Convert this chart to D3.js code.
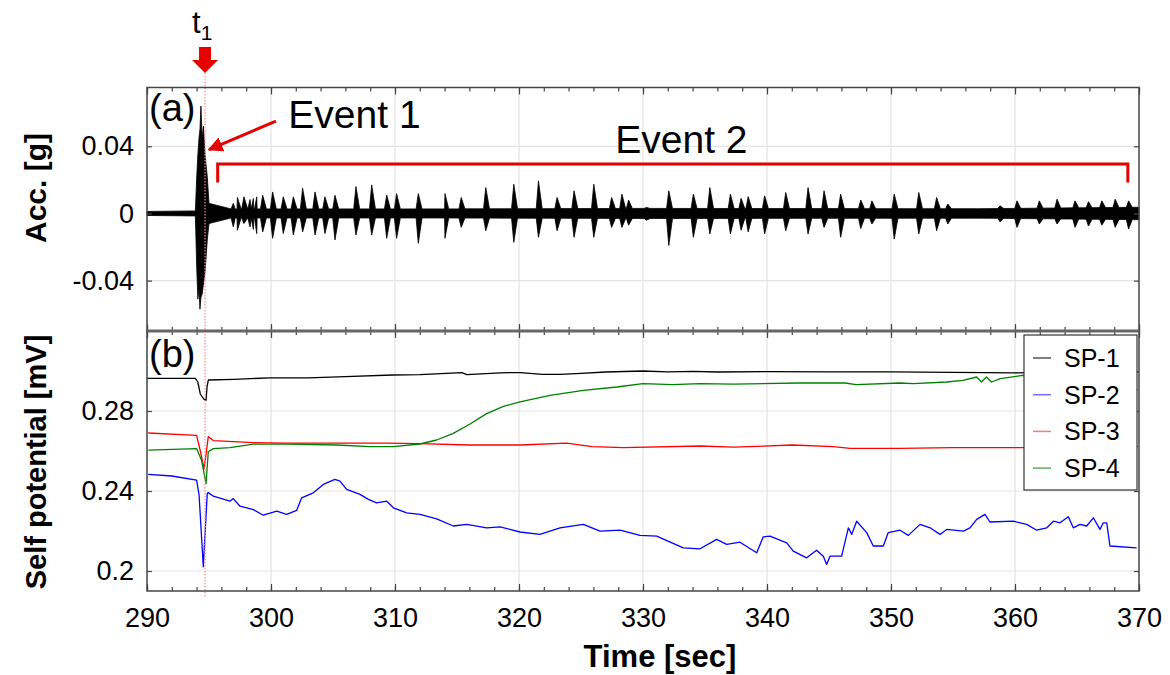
<!DOCTYPE html>
<html>
<head>
<meta charset="utf-8">
<script src="https://cdn.jsdelivr.net/npm/d3@7"></script>
<style>
  body { margin: 0; background: #fff; }
  text { font-family: "Liberation Sans", Arial, sans-serif; }
</style>
</head>
<body>
<svg id="chart" width="1170" height="675"></svg>
<script>
// ---- data ----
var xTicks = [290, 300, 310, 320, 330, 340, 350, 360, 370];
var accTicks = [-0.04, 0, 0.04];
var spTicks = [0.2, 0.24, 0.28];
var t1 = 294.68;

// background noise half-width of the accelerometer trace [g]
var accNoiseT = [290, 293.9, 295.1, 314, 330, 357, 370];
var accNoiseAmp = [0.0012, 0.0012, 0.0027, 0.0027, 0.003, 0.0028, 0.0037];

// event 1 envelope: time, upper, lower
var event1 = [
  [293.9, 0.0015, -0.0015], [294.0, 0.02, -0.03], [294.1, 0.035, -0.051],
  [294.2, 0.0455, -0.045], [294.27, 0.05, -0.057], [294.35, 0.064, -0.05],
  [294.45, 0.045, -0.048], [294.55, 0.052, -0.042], [294.68, 0.035, -0.035],
  [294.86, 0.022, -0.016], [295.0, 0.006, -0.006]
];

// event 2 bursts: time, upper peak, lower peak
var bursts = [
  [296.96, 0.006, -0.008], [297.29, 0.0095, -0.010], [297.82, 0.0099, -0.006],
  [298.31, 0.0083, -0.008], [298.58, 0.0089, -0.0095], [298.85, 0.0099, -0.012],
  [299.33, 0.0108, -0.011], [300.13, 0.0128, -0.0148], [300.99, 0.0099, -0.012],
  [301.80, 0.0099, -0.0128], [302.55, 0.015, -0.011], [303.55, 0.0128, -0.0128],
  [304.35, 0.0099, -0.012], [305.16, 0.0108, -0.0158], [306.85, 0.016, -0.0128],
  [308.12, 0.017, -0.0128], [309.33, 0.011, -0.0148], [310.13, 0.0118, -0.0148],
  [311.88, 0.0118, -0.0178], [314.03, 0.0118, -0.0148], [315.34, 0.0095, -0.0083],
  [317.32, 0.0154, -0.0103], [319.58, 0.0174, -0.0172], [321.57, 0.0194, -0.0142],
  [323.07, 0.0095, -0.0103], [324.44, 0.0135, -0.0142], [326.03, 0.0174, -0.0142],
  [327.47, 0.0095, -0.0083], [328.30, 0.0115, -0.0083], [328.84, 0.008, -0.007],
  [330.27, 0.0036, -0.004], [332.08, 0.0135, -0.0191], [334.06, 0.0115, -0.0142],
  [335.39, 0.0154, -0.0122], [337.05, 0.0115, -0.0122], [337.91, 0.009, -0.010],
  [338.48, 0.010, -0.011], [339.81, 0.0105, -0.0122], [341.51, 0.0125, -0.0103],
  [343.31, 0.0154, -0.0122], [344.60, 0.0135, -0.0083], [345.94, 0.0115, -0.0142],
  [347.56, 0.008, -0.009], [348.46, 0.0075, -0.0063], [350.26, 0.0115, -0.0152],
  [352.24, 0.0125, -0.0122], [353.68, 0.0095, -0.0103], [354.58, 0.0056, -0.0063],
  [358.79, 0.0046, -0.005], [360.16, 0.0075, -0.0083], [361.96, 0.0075, -0.0063],
  [363.39, 0.0085, -0.0063], [364.84, 0.0075, -0.0083], [365.92, 0.007, -0.0075],
  [367.0, 0.0075, -0.007], [368.08, 0.0085, -0.0083], [369.16, 0.0075, -0.0093]
];

// self potential traces [time, mV]
var sp1 = [
  [290, 0.2963], [293.9, 0.2963], [294.1, 0.2945], [294.3, 0.2885], [294.6, 0.2858],
  [294.76, 0.2853], [294.85, 0.2925], [294.95, 0.2955], [297, 0.2958], [299.9, 0.2966],
  [303, 0.2966], [306, 0.2972], [309.8, 0.298], [312, 0.2982], [315.4, 0.2992],
  [315.8, 0.2982], [318.5, 0.2991], [320.1, 0.2992], [321.9, 0.2983], [323.3, 0.2983],
  [325, 0.2988], [327, 0.2995], [330, 0.300], [332, 0.2996], [334, 0.2998],
  [336, 0.2995], [340, 0.2997], [345, 0.2996], [350, 0.2996], [355, 0.2993],
  [360, 0.2991], [365, 0.2994], [370, 0.2996]
];
var sp2 = [
  [290.1, 0.2483], [292, 0.2475], [294.0, 0.2454], [294.2, 0.238], [294.54, 0.2021],
  [294.86, 0.2388], [294.94, 0.2392], [295.35, 0.2374], [296.69, 0.2349], [296.96, 0.2362],
  [297.5, 0.2324], [298.58, 0.2307], [299.38, 0.2279], [300.46, 0.2299], [301.26, 0.2283],
  [302.07, 0.2303], [302.47, 0.2366], [303.41, 0.2391], [304.22, 0.2433], [305.16, 0.2458],
  [305.56, 0.2449], [306.1, 0.2408], [307.18, 0.2383], [307.85, 0.2358], [308.52, 0.2341],
  [309.33, 0.2349], [309.87, 0.2316], [310.94, 0.2291], [312.02, 0.2283], [313.36, 0.2261],
  [314.7, 0.2225], [315.78, 0.2233], [317.39, 0.2216], [318.47, 0.2221], [320.08, 0.2195],
  [321.69, 0.2183], [323.31, 0.2216], [325.19, 0.2233], [326.53, 0.2199], [328.15, 0.2204],
  [329.76, 0.2178], [331.1, 0.2174], [333.25, 0.2116], [334.6, 0.2111], [335.94, 0.2158],
  [336.75, 0.2133], [337.82, 0.2144], [339.17, 0.2091], [339.7, 0.2171], [340.24, 0.2174],
  [341.59, 0.2141], [342.12, 0.2099], [343.2, 0.2066], [344.0, 0.2104], [344.54, 0.2074],
  [344.81, 0.2033], [345.08, 0.2074], [346.02, 0.2074], [346.56, 0.2216], [346.83, 0.2183],
  [347.23, 0.2249], [348.04, 0.2192], [348.57, 0.2125], [349.38, 0.2125], [349.78, 0.2192],
  [350.73, 0.2204], [351.4, 0.2178], [352.34, 0.2233], [353.15, 0.2216], [353.95, 0.2183],
  [354.49, 0.2208], [355.84, 0.2199], [356.37, 0.2216], [356.91, 0.2258], [357.58, 0.2283],
  [357.98, 0.2245], [359.87, 0.2249], [360.94, 0.2233], [361.75, 0.2204], [362.56, 0.2216],
  [363.1, 0.2249], [363.63, 0.2241], [364.3, 0.2271], [364.7, 0.2216], [365.24, 0.2233],
  [365.78, 0.2225], [366.32, 0.2266], [366.85, 0.2208], [367.12, 0.2241], [367.4, 0.2241],
  [367.66, 0.2125], [369.81, 0.2116]
];
var sp3 = [
  [290.1, 0.2690], [294.0, 0.2678], [294.3, 0.2600], [294.6, 0.2512], [294.8, 0.2600],
  [294.94, 0.2672], [295.35, 0.2652], [298.58, 0.2642], [301.26, 0.2639], [309.33, 0.2639],
  [312.02, 0.2637], [316.0, 0.2630], [320.08, 0.2630], [323.85, 0.2639], [325.9, 0.2622],
  [328.4, 0.2617], [334.6, 0.2625], [337.3, 0.2619], [342.1, 0.2630], [345.35, 0.2622],
  [346.7, 0.2613], [350.7, 0.2613], [355, 0.2617], [360.6, 0.2617], [369.9, 0.2622]
];
var sp4 = [
  [290.1, 0.2604], [294.0, 0.2612], [294.4, 0.2554], [294.76, 0.2437], [294.94, 0.2596],
  [295.35, 0.2612], [296.69, 0.2617], [298.58, 0.2634], [301.26, 0.2634], [305.3, 0.2630],
  [307.98, 0.2622], [309.87, 0.2622], [312.0, 0.2635], [313.36, 0.2655], [314.7, 0.2688],
  [316.05, 0.2735], [317.39, 0.2787], [318.74, 0.2823], [320.08, 0.2846], [322.5, 0.2878],
  [325.19, 0.2903], [327.88, 0.2920], [330, 0.2937], [332.4, 0.2932], [334.6, 0.2937],
  [337.3, 0.2934], [342.6, 0.2940], [346.3, 0.2940], [347.2, 0.2932], [350.73, 0.2940],
  [351.8, 0.2937], [354.5, 0.2945], [355.8, 0.2953], [356.9, 0.2970], [357.3, 0.2945],
  [357.7, 0.2970], [358.1, 0.2945], [358.8, 0.2962], [360.6, 0.2978], [367.5, 0.2975],
  [368.0, 0.2910], [369.9, 0.2907]
];

var spNames = ["SP-1", "SP-2", "SP-3", "SP-4"];
var spColors = ["#000000", "#0000ff", "#ff0000", "#008000"];
var spLegendColors = ["#555555", "#6f6fff", "#ff7a7a", "#5fae5f"];

// ---- layout ----
var svg = d3.select("#chart");
var left = 147, right = 1139;
var x = d3.scaleLinear().domain([290, 370]).range([left, right]);
var yA = d3.scaleLinear().domain([-0.07, 0.075]).range([331, 87.5]);
var yB = d3.scaleLinear().domain([0.19, 0.32]).range([591, 331]);
var gridColor = "#e3e3e3", frameColor = "#444";

function fmt(d) { return d === 0 ? "0" : String(d); }

// grid lines
function grid(y, ticks) {
  var g = svg.append("g");
  g.selectAll("line.v").data(xTicks.slice(1, -1)).enter().append("line")
    .attr("x1", x).attr("x2", x)
    .attr("y1", y.range()[0]).attr("y2", y.range()[1])
    .attr("stroke", gridColor).attr("stroke-width", 1.2);
  g.selectAll("line.h").data(ticks).enter().append("line")
    .attr("x1", left).attr("x2", right)
    .attr("y1", y).attr("y2", y)
    .attr("stroke", gridColor).attr("stroke-width", 1.2);
}
grid(yA, accTicks);
grid(yB, spTicks);

// ---- panel (a): acceleration envelope ----
var noise = d3.scaleLinear().domain(accNoiseT).range(accNoiseAmp);
var env = [];
accNoiseT.forEach(function(t) {
  if (t < 293.9 || t > 295.1) env.push([t, noise(t), -noise(t)]);
});
event1.forEach(function(d) { env.push(d); });
bursts.forEach(function(d) {
  env.push([d[0] - 0.18, noise(d[0] - 0.18), -noise(d[0] - 0.18)]);
  env.push(d);
  env.push([d[0] + 0.3, noise(d[0] + 0.3), -noise(d[0] + 0.3)]);
});
env.sort(function(a, b) { return a[0] - b[0]; });

svg.append("path")
  .datum(env)
  .attr("fill", "#000")
  .attr("stroke", "#000")
  .attr("stroke-width", 0.8)
  .attr("d", d3.area()
    .x(function(d) { return x(d[0]); })
    .y0(function(d) { return yA(d[2]); })
    .y1(function(d) { return yA(d[1]); }));

// ---- panel (b): self potential ----
var spLine = d3.line()
  .x(function(d) { return x(d[0]); })
  .y(function(d) { return yB(d[1]); });

[sp1, sp2, sp3, sp4].forEach(function(s, i) {
  svg.append("path")
    .datum(s)
    .attr("fill", "none")
    .attr("stroke", spColors[i])
    .attr("stroke-width", 1.3)
    .attr("stroke-linejoin", "round")
    .attr("d", spLine);
});

// t1 marker (dotted)
svg.append("line")
  .attr("x1", x(t1)).attr("x2", x(t1))
  .attr("y1", 73).attr("y2", 598)
  .attr("stroke", "#ff8c8c")
  .attr("stroke-width", 1.2)
  .attr("stroke-dasharray", "1.5,1.5");

// ---- frames and ticks ----
function frame(y, ticks, showX) {
  var y0 = y.range()[0], y1 = y.range()[1];
  var g = svg.append("g");
  var minor = d3.range(290, 371, 2);

  g.append("g").attr("transform", "translate(0," + y0 + ")")
    .call(d3.axisBottom(x).tickValues(minor).tickSize(-4).tickFormat(""));
  g.append("g").attr("transform", "translate(0," + y0 + ")")
    .call(d3.axisBottom(x).tickValues(xTicks).tickSize(-7).tickPadding(17)
      .tickFormat(showX ? d3.format("d") : ""));
  g.append("g").attr("transform", "translate(0," + y1 + ")")
    .call(d3.axisTop(x).tickValues(minor).tickSize(-4).tickFormat(""));
  g.append("g").attr("transform", "translate(0," + y1 + ")")
    .call(d3.axisTop(x).tickValues(xTicks).tickSize(-7).tickFormat(""));
  g.append("g").attr("transform", "translate(" + left + ",0)")
    .call(d3.axisLeft(y).tickValues(ticks).tickSize(-5).tickPadding(13).tickFormat(fmt));
  g.append("g").attr("transform", "translate(" + right + ",0)")
    .call(d3.axisRight(y).tickValues(ticks).tickSize(-5).tickFormat(""));

  g.selectAll(".domain").remove();
  g.selectAll(".tick line").attr("stroke", frameColor).attr("stroke-width", 1.2);
  g.selectAll(".tick text")
    .attr("fill", "#000")
    .style("font-size", "27px")
    .style("font-family", "'Liberation Sans', Arial, sans-serif");

  g.append("rect")
    .attr("x", left).attr("y", y1)
    .attr("width", right - left).attr("height", y0 - y1)
    .attr("fill", "none")
    .attr("stroke", frameColor)
    .attr("stroke-width", 1.5);
}
frame(yA, accTicks, false);
frame(yB, spTicks, true);

// thick divider between the panels
svg.append("line")
  .attr("x1", left).attr("x2", right)
  .attr("y1", yA(-0.07)).attr("y2", yA(-0.07))
  .attr("stroke", "#666").attr("stroke-width", 3);

// ---- axis titles ----
svg.append("text")
  .attr("transform", "translate(46," + 188 + ") rotate(-90)")
  .attr("text-anchor", "middle")
  .style("font-size", "30px").style("font-weight", "bold")
  .text("Acc. [g]");
svg.append("text")
  .attr("transform", "translate(46," + 462 + ") rotate(-90)")
  .attr("text-anchor", "middle")
  .style("font-size", "29px").style("font-weight", "bold")
  .text("Self potential [mV]");
svg.append("text")
  .attr("x", 660).attr("y", 667)
  .attr("text-anchor", "middle")
  .style("font-size", "31px").style("font-weight", "bold")
  .text("Time [sec]");

// panel tags
svg.append("text").attr("x", 149).attr("y", 121).style("font-size", "38px").text("(a)");
svg.append("text").attr("x", 149).attr("y", 367).style("font-size", "38px").text("(b)");

// ---- annotations ----
var red = "#e60000";
var defs = svg.append("defs");
defs.append("marker")
  .attr("id", "head")
  .attr("viewBox", "0 0 10 10")
  .attr("refX", 9).attr("refY", 5)
  .attr("markerWidth", 5).attr("markerHeight", 5)
  .attr("orient", "auto")
  .append("path").attr("d", "M0,0 L10,5 L0,10 Z").attr("fill", red);

// t1 arrow
var ax = x(t1);
svg.append("path")
  .attr("d", "M" + (ax - 6) + ",47 L" + (ax + 6) + ",47 L" + (ax + 6) + ",60 L" + (ax + 13) + ",60 L" +
    ax + ",73 L" + (ax - 13) + ",60 L" + (ax - 6) + ",60 Z")
  .attr("fill", red);
var t1Label = svg.append("text").attr("x", ax - 13).attr("y", 33).style("font-size", "31px");
t1Label.append("tspan").text("t");
t1Label.append("tspan").attr("dy", 7).style("font-size", "21px").text("1");

// Event 1
svg.append("line")
  .attr("x1", x(300.4)).attr("y1", yA(0.055))
  .attr("x2", x(295.0)).attr("y2", yA(0.038))
  .attr("stroke", red).attr("stroke-width", 3)
  .attr("marker-end", "url(#head)");
svg.append("text").attr("x", x(301.4)).attr("y", yA(0.051))
  .style("font-size", "39px").text("Event 1");

// Event 2 bracket
svg.append("path")
  .attr("d", "M" + x(295.7) + "," + yA(0.0185) + " L" + x(295.7) + "," + yA(0.0295) +
    " L" + x(369.1) + "," + yA(0.0295) + " L" + x(369.1) + "," + yA(0.0185))
  .attr("fill", "none").attr("stroke", red).attr("stroke-width", 3);
svg.append("text").attr("x", x(333.1)).attr("y", yA(0.036))
  .attr("text-anchor", "middle")
  .style("font-size", "39px").text("Event 2");

// ---- legend ----
var lg = svg.append("g").attr("transform", "translate(1024,335)");
lg.append("rect").attr("width", 113).attr("height", 155)
  .attr("fill", "#fff").attr("stroke", "#333").attr("stroke-width", 1.2);
var items = lg.selectAll("g.item").data(spNames).enter().append("g")
  .attr("transform", function(d, i) { return "translate(0," + (23 + i * 36.7) + ")"; });
items.append("line")
  .attr("x1", 9).attr("x2", 27)
  .attr("stroke", function(d, i) { return spLegendColors[i]; })
  .attr("stroke-width", 1.5);
items.append("text")
  .attr("x", 40).attr("y", 9)
  .style("font-size", "25px")
  .text(function(d) { return d; });
</script>
</body>
</html>
